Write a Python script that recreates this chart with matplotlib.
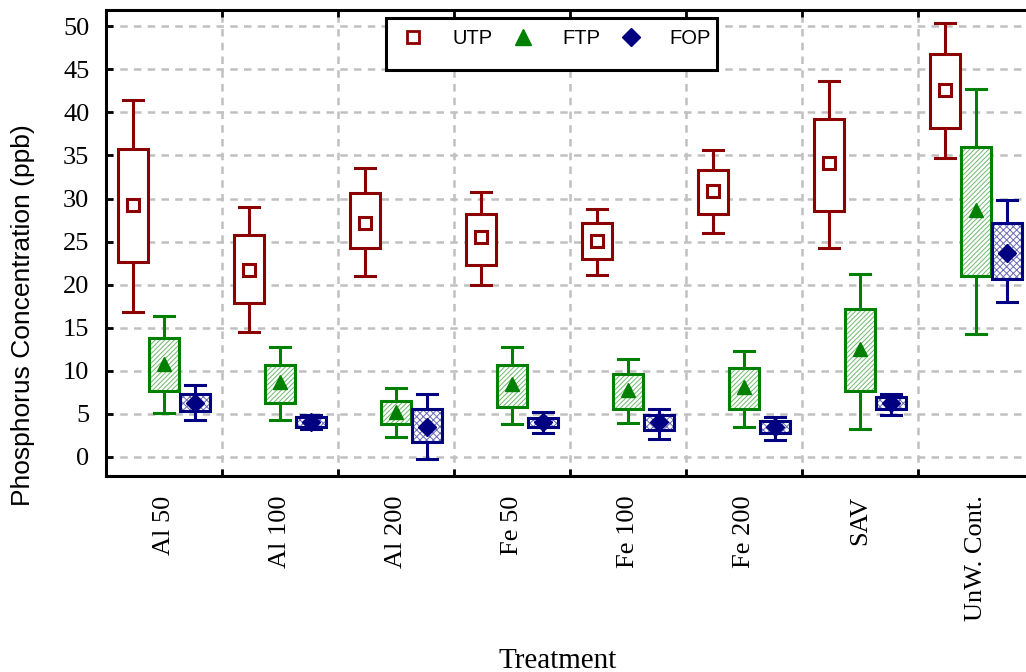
import matplotlib
matplotlib.use("Agg")
import matplotlib.pyplot as plt
from matplotlib.patches import Rectangle
from matplotlib.lines import Line2D

categories = ["Al 50", "Al 100", "Al 200", "Fe 50", "Fe 100", "Fe 200", "SAV", "UnW. Cont."]

# UTP: mean, box (q1..q3), whiskers (lo..hi)
utp_mean = [29.2, 21.7, 27.2, 25.5, 25.1, 30.9, 34.1, 42.6]
utp_q3 = [35.7, 25.8, 30.6, 28.2, 27.1, 33.3, 39.2, 46.8]
utp_q1 = [22.6, 17.9, 24.2, 22.3, 23.0, 28.2, 28.5, 38.2]
utp_hi = [41.4, 29.0, 33.5, 30.7, 28.8, 35.6, 43.6, 50.4]
utp_lo = [16.8, 14.5, 21.0, 20.0, 21.1, 26.0, 24.2, 34.7]

# FTP
ftp_mean = [10.8, 8.7, 5.2, 8.4, 7.8, 8.1, 12.5, 28.7]
ftp_q3 = [13.8, 10.7, 6.5, 10.6, 9.6, 10.3, 17.2, 36.0]
ftp_q1 = [7.6, 6.2, 3.8, 5.8, 5.5, 5.5, 7.6, 21.0]
ftp_hi = [16.3, 12.8, 8.0, 12.7, 11.4, 12.3, 21.2, 42.7]
ftp_lo = [5.1, 4.3, 2.3, 3.8, 3.9, 3.5, 3.2, 14.2]

# FOP
fop_mean = [6.2, 4.0, 3.4, 4.0, 4.0, 3.5, 6.2, 23.7]
fop_q3 = [7.3, 4.6, 5.5, 4.5, 4.8, 4.2, 6.9, 27.1]
fop_q1 = [5.3, 3.4, 1.7, 3.4, 3.1, 2.7, 5.5, 20.7]
fop_hi = [8.3, 4.9, 7.3, 5.2, 5.6, 4.6, 7.3, 29.8]
fop_lo = [4.3, 3.2, -0.3, 2.7, 2.1, 2.0, 4.8, 18.0]

plt.rcParams['hatch.linewidth'] = 0.7

fig = plt.figure(figsize=(10.26, 6.72), dpi=100)
ax = fig.add_axes([106/1026, 1 - 476/672, 928/1026, 466/672])

n = len(categories)
ax.set_xlim(0, n)
ax.set_ylim(-2.24, 51.9)

box_w = 0.26
cap_w = 0.17

series = [
    ("UTP", -0.265, utp_mean, utp_q1, utp_q3, utp_lo, utp_hi, "#8b0000", None, None, "s", 9, "white"),
    ("FTP", 0.0, ftp_mean, ftp_q1, ftp_q3, ftp_lo, ftp_hi, "#008000", "///////", "#6fb86f", "^", 10, "#008000"),
    ("FOP", 0.265, fop_mean, fop_q1, fop_q3, fop_lo, fop_hi, "#000080", "xxxxx", "#6a6ab8", "D", 9, "#000080"),
]

for name, off, mean, q1, q3, lo, hi, col, hatch, hcol, mk, ms, mfc in series:
    for i in range(n):
        x = i + 0.5 + off
        if hatch:
            ax.add_patch(Rectangle((x - box_w/2, q1[i]), box_w, q3[i] - q1[i],
                                   facecolor="white", edgecolor=hcol, hatch=hatch,
                                   linewidth=0, zorder=3))
        ax.add_patch(Rectangle((x - box_w/2, q1[i]), box_w, q3[i] - q1[i],
                               facecolor="white" if not hatch else "none",
                               edgecolor=col, linewidth=2.2, zorder=4))
        ax.plot([x, x], [q3[i], hi[i]], color=col, lw=2.2, zorder=4, solid_capstyle="butt")
        ax.plot([x, x], [lo[i], q1[i]], color=col, lw=2.2, zorder=4, solid_capstyle="butt")
        ax.plot([x - cap_w/2, x + cap_w/2], [hi[i], hi[i]], color=col, lw=2.2, zorder=4)
        ax.plot([x - cap_w/2, x + cap_w/2], [lo[i], lo[i]], color=col, lw=2.2, zorder=4)
        ax.plot(x, mean[i], marker=mk, ms=ms, mfc=mfc, mec=col, mew=2.2 if mk == "s" else 1, zorder=5)

# grid
for b in range(1, n):
    ax.axvline(b, color="#c0c0c0", lw=1.8, ls=(0, (3, 2.5)), zorder=1)
for yv in range(0, 51, 5):
    ax.axhline(yv, color="#c0c0c0", lw=1.8, ls=(0, (3, 2.5)), zorder=1)

ax.set_yticks(range(0, 51, 5))
ax.set_xticks(range(0, n + 1))
ax.set_xticklabels([])
ax.set_xticks([i + 0.5 for i in range(n)], minor=True)
ax.set_xticklabels(categories, minor=True, rotation=90, family="Liberation Serif", fontsize=19)
ax.tick_params(axis="x", which="minor", length=0, pad=14)
ax.tick_params(axis="x", which="major", direction="in", length=5, width=2, top=True)
ax.tick_params(axis="y", direction="in", length=5, width=2, pad=12)
for lab in ax.get_yticklabels():
    lab.set_family("Liberation Serif")
    lab.set_fontsize(19)

for s in ["left", "bottom", "top"]:
    ax.spines[s].set_linewidth(2.2)
ax.spines["right"].set_visible(False)

ax.set_ylabel("Phosphorus Concentration (ppb)", family="Liberation Sans", fontsize=19)
ax.yaxis.set_label_coords(-71/928, 0.345)
fig.text(558/1026, 1 - 661/672, "Treatment", family="Liberation Serif", fontsize=21,
         ha="center", va="center")

# legend
ax.add_patch(Rectangle((0.302, 0.871), 0.356, 0.112, transform=ax.transAxes,
                       facecolor="white", edgecolor="black", lw=2.2, zorder=6))
handles = [
    Line2D([], [], ls="none", marker="s", ms=9, mfc="white", mec="#8b0000", mew=2),
    Line2D([], [], ls="none", marker="^", ms=11, mfc="#008000", mec="#008000"),
    Line2D([], [], ls="none", marker="D", ms=9, mfc="#000080", mec="#000080"),
]
leg = ax.legend(handles, ["UTP", "FTP", "FOP"], ncol=3, frameon=False,
                loc="upper left", bbox_to_anchor=(0.315, 0.96), borderaxespad=0, borderpad=0,
                handlelength=1.5, handletextpad=1.2, columnspacing=0.75,
                prop={"family": "Liberation Sans", "size": 14.5})
leg.set_zorder(7)

fig.savefig("out.png", dpi=100)
